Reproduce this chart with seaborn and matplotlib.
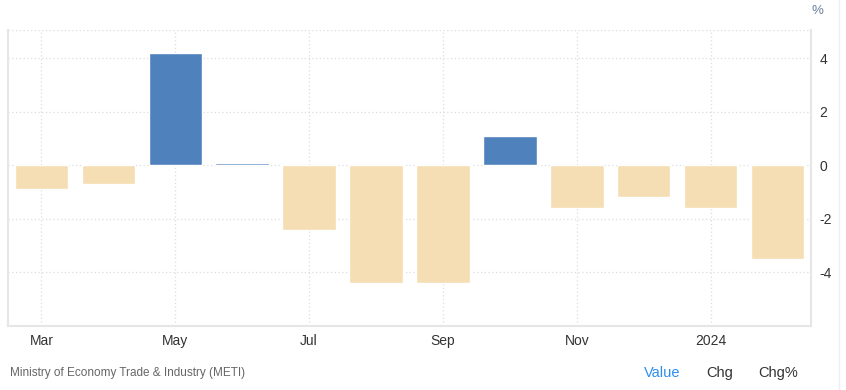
import numpy as np
import pandas as pd
import matplotlib.pyplot as plt
import seaborn as sns

# monthly change, Mar 2023 - Feb 2024
months = ['Mar', 'Apr', 'May', 'Jun', 'Jul', 'Aug', 'Sep', 'Oct', 'Nov', 'Dec', 'Jan', 'Feb']
values = [-0.9, -0.7, 4.2, 0.1, -2.4, -4.4, -4.4, 1.1, -1.6, -1.2, -1.6, -3.5]
tick_pos = [0, 2, 4, 6, 8, 10]
tick_labels = ['Mar', 'May', 'Jul', 'Sep', 'Nov', '2024']
yticks = [-4, -2, 0, 2, 4]

df = pd.DataFrame({'month': months, 'value': values})
df['sign'] = np.where(df['value'] >= 0, 'up', 'down')

sns.set_style('white')
plt.rcParams['font.family'] = ['Liberation Sans', 'DejaVu Sans']
plt.rcParams['axes.unicode_minus'] = False

fig = plt.figure(figsize=(8.46, 3.90), dpi=100)
ax = fig.add_axes([8 / 846, 1 - 326 / 390, (811 - 8) / 846, (326 - 30) / 390])

sns.barplot(data=df, x='month', y='value', hue='sign',
            palette={'up': '#4f81bd', 'down': '#f5deb3'}, saturation=1,
            width=0.8, dodge=False, legend=False, ax=ax, zorder=3)

ax.set_xlim(-0.5, 11.5)
ax.set_ylim(-6.0, 5.05)
ax.set_xticks(tick_pos)
ax.set_xticklabels(tick_labels)
ax.set_yticks(yticks)
ax.yaxis.tick_right()
ax.set_xlabel('')
ax.set_ylabel('')
ax.tick_params(axis='both', length=0, labelsize=10, colors='#333333')
ax.tick_params(axis='x', pad=6)
ax.tick_params(axis='y', pad=6)

ax.grid(True, axis='both', color='#dddddd', linestyle=(0, (1, 2)), linewidth=0.9, zorder=0)
ax.axhline(5.05, color='#dddddd', linestyle=(0, (1, 2)), linewidth=0.9, zorder=0)

for side in ['left', 'right', 'bottom']:
    ax.spines[side].set_color('#e6e6e6')
    ax.spines[side].set_linewidth(1.5)
ax.spines['top'].set_visible(False)

fig.text(817 / 846, 1 - 11 / 390, '%', fontsize=9.5, color='#6a7f9a', ha='center', va='center')
fig.text(10 / 846, 1 - 373 / 390, 'Ministry of Economy Trade & Industry (METI)',
         fontsize=8.5, color='#666666', ha='left', va='center')
fig.text(662 / 846, 1 - 373 / 390, 'Value', fontsize=10.5, color='#2e8ef0', ha='center', va='center')
fig.text(720 / 846, 1 - 373 / 390, 'Chg', fontsize=10.5, color='#333333', ha='center', va='center')
fig.text(778 / 846, 1 - 373 / 390, 'Chg%', fontsize=10.5, color='#333333', ha='center', va='center')

fig.add_artist(plt.Line2D([839 / 846, 839 / 846], [0, 1], color='#eeeeee', linewidth=1))

fig.savefig('out.png', dpi=100)
